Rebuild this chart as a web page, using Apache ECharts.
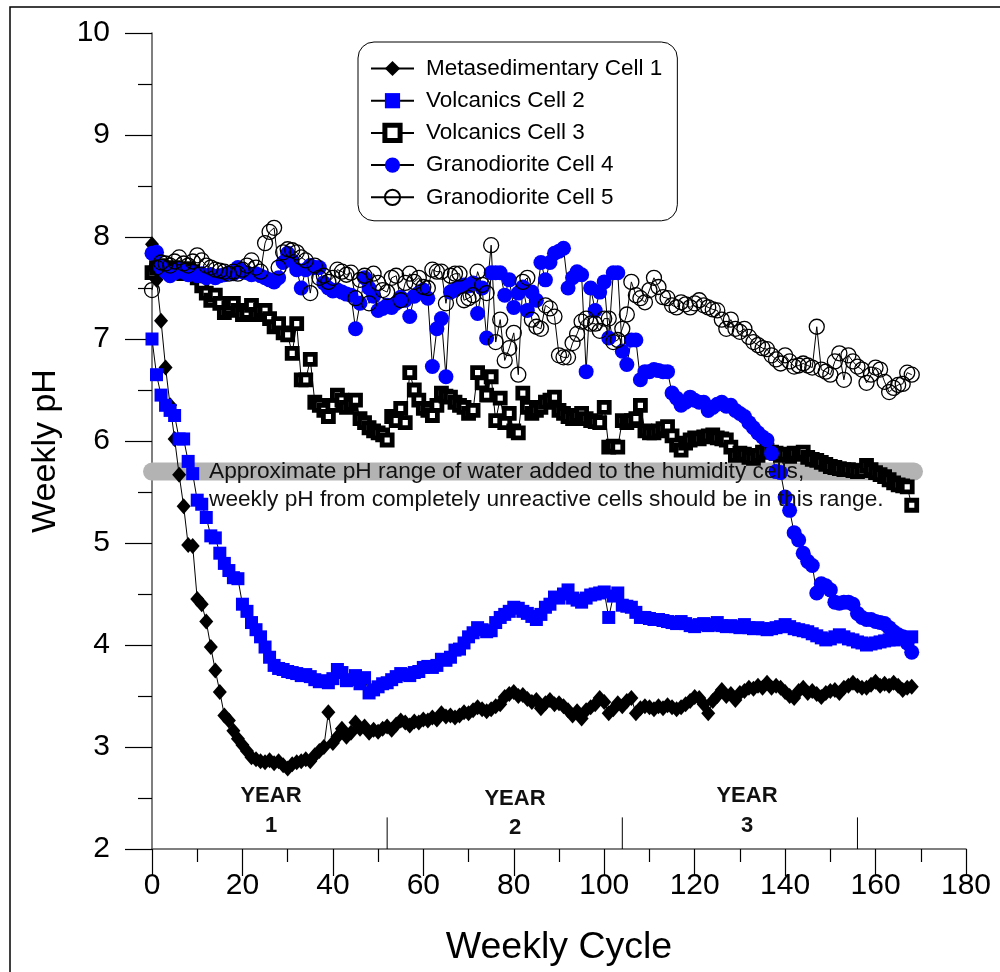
<!DOCTYPE html>
<html>
<head>
<meta charset="utf-8">
<script src="https://cdn.jsdelivr.net/npm/echarts@6/dist/echarts.min.js"></script>
<style>
html,body{margin:0;padding:0;background:#fff;}
#chart{width:1000px;height:972px;}
</style>
</head>
<body>
<div id="chart"></div>
<script>
// ---------------- DATA ----------------
const seriesNames = ["Metasedimentary Cell 1","Volcanics Cell 2","Volcanics Cell 3","Granodiorite Cell 4","Granodiorite Cell 5"];
const xTicks = [0,20,40,60,80,100,120,140,160,180];
const yTicks = [2,3,4,5,6,7,8,9,10];

const meta1 = [7.93,7.58,7.18,6.72,6.35,6.02,5.67,5.36,4.98,4.97,
4.45,4.40,4.23,3.98,3.75,3.54,3.31,3.26,3.16,3.08,
3.02,2.96,2.90,2.88,2.86,2.85,2.87,2.84,2.86,2.82,
2.79,2.83,2.85,2.86,2.88,2.86,2.92,2.96,3.00,3.34,
3.04,3.10,3.18,3.10,3.14,3.24,3.18,3.20,3.14,3.17,
3.15,3.18,3.20,3.17,3.22,3.26,3.24,3.21,3.25,3.24,
3.27,3.26,3.29,3.27,3.33,3.30,3.31,3.29,3.31,3.34,
3.33,3.36,3.39,3.37,3.35,3.37,3.40,3.42,3.49,3.52,
3.54,3.50,3.51,3.47,3.44,3.46,3.38,3.43,3.46,3.42,
3.43,3.40,3.36,3.31,3.35,3.28,3.36,3.39,3.42,3.48,
3.44,3.33,3.37,3.43,3.40,3.45,3.48,3.33,3.38,3.40,
3.39,3.37,3.40,3.38,3.41,3.39,3.37,3.39,3.42,3.45,
3.49,3.48,3.42,3.33,3.45,3.50,3.56,3.50,3.52,3.46,
3.53,3.55,3.58,3.57,3.60,3.58,3.63,3.58,3.60,3.58,
3.54,3.50,3.48,3.55,3.58,3.53,3.55,3.52,3.49,3.53,
3.55,3.56,3.53,3.58,3.60,3.63,3.60,3.58,3.58,3.61,
3.64,3.60,3.62,3.60,3.63,3.60,3.56,3.58,3.59];

const volc2 = [7.00,6.65,6.45,6.35,6.30,6.25,6.02,6.02,5.80,5.68,
5.42,5.38,5.25,5.07,5.05,4.90,4.80,4.73,4.66,4.65,
4.40,4.33,4.22,4.15,4.08,3.98,3.88,3.80,3.77,3.76,
3.74,3.73,3.72,3.70,3.71,3.69,3.66,3.64,3.65,3.63,
3.67,3.76,3.73,3.65,3.66,3.70,3.62,3.68,3.53,3.56,
3.59,3.62,3.63,3.66,3.69,3.72,3.71,3.70,3.73,3.74,
3.78,3.79,3.78,3.80,3.86,3.85,3.88,3.95,3.96,4.02,
4.08,4.12,4.17,4.15,4.13,4.14,4.22,4.27,4.30,4.33,
4.37,4.36,4.33,4.31,4.28,4.25,4.30,4.37,4.40,4.47,
4.46,4.50,4.54,4.46,4.44,4.42,4.46,4.49,4.50,4.51,
4.52,4.27,4.48,4.51,4.39,4.38,4.37,4.32,4.27,4.27,
4.26,4.25,4.25,4.24,4.23,4.22,4.21,4.23,4.21,4.19,
4.18,4.20,4.21,4.19,4.20,4.22,4.19,4.18,4.19,4.18,
4.17,4.20,4.17,4.16,4.17,4.16,4.15,4.16,4.17,4.18,
4.20,4.18,4.16,4.15,4.14,4.13,4.11,4.09,4.07,4.05,
4.06,4.08,4.10,4.08,4.06,4.05,4.03,4.02,4.00,4.01,
4.02,4.03,4.04,4.05,4.05,4.06,4.07,4.07,4.08];

const volc3 = [7.65,7.70,7.72,7.68,7.66,7.70,7.68,7.64,7.69,7.66,
7.60,7.52,7.45,7.38,7.43,7.35,7.26,7.30,7.35,7.28,
7.24,7.26,7.33,7.24,7.28,7.28,7.20,7.12,7.15,7.06,
7.04,6.86,7.15,6.60,6.60,6.80,6.38,6.35,6.30,6.24,
6.35,6.45,6.40,6.33,6.36,6.40,6.22,6.18,6.13,6.10,
6.08,6.06,6.01,6.24,6.20,6.32,6.18,6.67,6.50,6.40,
6.32,6.30,6.25,6.35,6.47,6.44,6.43,6.38,6.35,6.33,
6.27,6.30,6.67,6.57,6.45,6.63,6.20,6.42,6.18,6.27,
6.10,6.08,6.47,6.33,6.27,6.30,6.33,6.38,6.40,6.43,
6.30,6.27,6.24,6.22,6.25,6.27,6.22,6.20,6.19,6.18,
6.33,5.94,5.95,5.94,6.20,6.18,6.20,6.22,6.35,6.10,
6.08,6.08,6.10,6.12,6.14,6.05,5.96,5.91,5.98,6.01,
6.03,6.02,6.04,6.05,6.06,6.03,6.02,6.01,5.94,5.86,
5.88,5.87,5.84,5.83,5.86,5.89,5.91,5.89,5.88,5.86,
5.87,5.85,5.88,5.87,5.89,5.84,5.82,5.81,5.79,5.77,
5.75,5.74,5.73,5.72,5.72,5.71,5.70,5.71,5.76,5.72,
5.69,5.67,5.65,5.62,5.59,5.57,5.56,5.55,5.37];

const grano4 = [7.84,7.85,7.70,7.66,7.62,7.65,7.68,7.66,7.63,7.65,
7.62,7.64,7.60,7.63,7.60,7.62,7.63,7.65,7.64,7.70,
7.66,7.65,7.63,7.64,7.62,7.60,7.58,7.56,7.60,7.75,
7.84,7.77,7.68,7.50,7.68,7.72,7.70,7.70,7.55,7.50,
7.47,7.48,7.46,7.44,7.43,7.10,7.35,7.60,7.50,7.42,
7.28,7.30,7.33,7.31,7.35,7.41,7.38,7.22,7.42,7.45,
7.48,7.40,6.73,7.10,7.20,6.63,7.46,7.48,7.51,7.53,
7.52,7.55,7.25,7.50,7.01,7.65,7.65,7.65,7.43,7.58,
7.31,7.45,7.51,7.28,7.46,7.38,7.75,7.58,7.75,7.84,
7.86,7.89,7.50,7.60,7.66,7.63,6.68,7.50,7.28,7.46,
7.56,7.01,7.65,7.65,6.88,6.75,6.99,6.99,6.60,6.68,
6.68,6.70,6.69,6.68,6.68,6.47,6.42,6.35,6.38,6.43,
6.40,6.38,6.38,6.30,6.33,6.36,6.38,6.34,6.35,6.30,
6.27,6.24,6.18,6.13,6.08,6.04,6.01,5.88,5.70,5.69,
5.45,5.32,5.10,5.03,4.90,4.82,4.78,4.51,4.60,4.58,
4.54,4.42,4.41,4.42,4.42,4.40,4.31,4.27,4.25,4.25,
4.23,4.22,4.21,4.17,4.13,4.10,4.08,4.02,3.93];

const grano5 = [7.48,7.70,7.75,7.74,7.72,7.76,7.80,7.74,7.72,7.76,
7.82,7.77,7.72,7.70,7.68,7.67,7.66,7.64,7.66,7.64,
7.68,7.72,7.77,7.70,7.66,7.94,8.05,8.09,7.70,7.85,
7.88,7.87,7.85,7.80,7.77,7.45,7.72,7.60,7.62,7.56,
7.60,7.68,7.66,7.63,7.65,7.40,7.58,7.62,7.35,7.64,
7.55,7.48,7.46,7.60,7.62,7.38,7.55,7.64,7.56,7.60,
7.51,7.50,7.68,7.66,7.66,7.35,7.62,7.64,7.64,7.38,
7.40,7.43,7.66,7.53,7.45,7.92,6.97,7.19,6.79,6.91,
7.06,6.65,7.56,7.60,7.19,7.12,7.10,7.33,7.30,7.22,
6.84,6.82,6.82,6.96,7.05,7.17,7.20,7.15,7.15,7.08,
7.20,7.20,6.97,6.99,7.10,7.24,7.56,7.43,7.40,7.36,
7.48,7.60,7.51,7.41,7.40,7.33,7.31,7.36,7.34,7.31,
7.35,7.38,7.33,7.31,7.29,7.28,7.19,7.10,7.19,7.10,
7.07,7.10,7.02,6.97,6.94,6.91,6.90,6.84,6.80,6.76,
6.84,6.78,6.73,6.74,6.76,6.74,6.72,7.12,6.70,6.68,
6.65,6.78,6.86,6.60,6.84,6.78,6.73,6.70,6.57,6.65,
6.72,6.70,6.58,6.48,6.52,6.55,6.56,6.67,6.65];

// annotation band (pH range of added water) and year boundaries
const bandX = [0, 168.5];
const bandPH = 5.7;
const yearBounds = [52, 104, 156];
const yearTickTop = 2.31;
const yearLabels = [["YEAR","1"],["YEAR","2"],["YEAR","3"]];
const noteLines = ["Approximate pH range of water added to the humidity cells,",
                   "weekly pH from completely unreactive cells should be in this range."];

// ---------------- CHART ----------------
const FONT = "'Liberation Sans', Arial, Helvetica, sans-serif";
const weeks = meta1.map((_, i) => i);
const pair = arr => arr.map((v, i) => [weeks[i], v]);

const chart = echarts.init(document.getElementById('chart'), null, {renderer: 'canvas'});

const lineBase = {
  type: 'line',
  showSymbol: true,
  showAllSymbol: true,
  lineStyle: {color: '#000', width: 1},
  emphasis: {disabled: true},
  z: 3
};

const yearText = (x, y, t) => ({type: 'text', x: x, y: y,
  style: {text: t, font: "bold 22px " + FONT, fill: '#111', textAlign: 'center', textVerticalAlign: 'middle'}, z: 5});

const option = {
  animation: false,
  backgroundColor: '#fff',
  textStyle: {fontFamily: FONT},
  grid: {left: 152, right: 34, top: 33, bottom: 123, containLabel: false},
  legend: {
    data: [
      {name: seriesNames[0]},
      {name: seriesNames[1]},
      {name: seriesNames[2], itemStyle: {color: '#fff', borderColor: '#000', borderWidth: 5}},
      {name: seriesNames[3]},
      {name: seriesNames[4]}
    ],
    orient: 'vertical',
    left: 358,
    top: 42,
    width: 319,
    padding: [15, 15, 12, 12],
    itemGap: 9.2,
    itemWidth: 43,
    itemHeight: 19,
    borderColor: '#000',
    borderWidth: 1,
    borderRadius: 16,
    backgroundColor: '#fff',
    selectedMode: false,
    textStyle: {fontSize: 22.5, color: '#000', fontFamily: FONT, padding: [0, 0, 0, 7], lineHeight: 22},
    z: 10
  },
  xAxis: {
    type: 'value',
    min: 0, max: 180, interval: 20,
    name: 'Weekly Cycle',
    nameLocation: 'middle',
    nameGap: 80,
    nameTextStyle: {fontSize: 37.5, color: '#000', fontFamily: FONT},
    axisLine: {show: true, onZero: false, lineStyle: {color: '#555', width: 1.5}},
    axisTick: {show: true, inside: false, length: 27, lineStyle: {color: '#000', width: 1.2}},
    minorTick: {show: true, splitNumber: 2, length: 13, lineStyle: {color: '#000', width: 1.2}},
    axisLabel: {fontSize: 30, color: '#000', margin: 22, fontFamily: FONT,
      formatter: v => xTicks.includes(v) ? String(v) : ''},
    splitLine: {show: false}
  },
  yAxis: {
    type: 'value',
    min: 2, max: 10, interval: 1,
    name: 'Weekly pH',
    nameLocation: 'middle',
    nameGap: 89,
    nameRotate: 90,
    nameTextStyle: {fontSize: 34, color: '#000', fontFamily: FONT, padding: [0, 20, 0, 0]},
    axisLine: {show: true, onZero: false, lineStyle: {color: '#555', width: 1.5}},
    axisTick: {show: true, inside: false, length: 27, lineStyle: {color: '#000', width: 1.2}},
    minorTick: {show: true, splitNumber: 2, length: 14, lineStyle: {color: '#000', width: 1.2}},
    axisLabel: {fontSize: 30, color: '#000', margin: 42, fontFamily: FONT,
      formatter: v => yTicks.includes(v) ? String(v) : ''},
    splitLine: {show: false}
  },
  graphic: [
    {type: 'rect', shape: {x: 10, y: 7, width: 1200, height: 1200}, style: {fill: 'none', stroke: '#000', lineWidth: 1.5}, silent: true, z: -1},
    yearText(271, 796, yearLabels[0][0]),
    yearText(271, 826, yearLabels[0][1]),
    yearText(515, 799, yearLabels[1][0]),
    yearText(515, 828, yearLabels[1][1]),
    yearText(747, 796, yearLabels[2][0]),
    yearText(747, 826, yearLabels[2][1]),
    {type: 'text', x: 209, y: 472, style: {text: noteLines[0], font: "22.7px " + FONT, fill: '#111', textAlign: 'left', textVerticalAlign: 'middle'}, z: 4},
    {type: 'text', x: 209, y: 500, style: {text: noteLines[1], font: "22.7px " + FONT, fill: '#111', textAlign: 'left', textVerticalAlign: 'middle'}, z: 4}
  ],
  series: [
    {
      name: 'band', type: 'line', data: bandX.map(x => [x, bandPH]),
      showSymbol: false, silent: true, z: 1,
      lineStyle: {color: '#b3b3b3', width: 18, cap: 'round'},
      emphasis: {disabled: true}
    },
    {
      name: 'yearDividers', type: 'custom', silent: true, z: 1,
      data: yearBounds.map(x => [x, 2]),
      renderItem: function (params, api) {
        const p0 = api.coord([api.value(0), 2]);
        const p1 = api.coord([api.value(0), yearTickTop]);
        return {type: 'line', shape: {x1: p0[0], y1: p0[1], x2: p1[0], y2: p1[1]}, style: {stroke: '#000', lineWidth: 1}};
      }
    },
    Object.assign({}, lineBase, {
      name: seriesNames[0], data: pair(meta1),
      symbol: 'diamond', symbolSize: [14, 16],
      itemStyle: {color: '#000'}
    }),
    Object.assign({}, lineBase, {
      name: seriesNames[1], data: pair(volc2),
      symbol: 'rect', symbolSize: 13,
      itemStyle: {color: '#0000ff'}
    }),
    Object.assign({}, lineBase, {
      name: seriesNames[2], data: pair(volc3),
      symbol: 'rect', symbolSize: 10,
      itemStyle: {color: '#fff', borderColor: '#000', borderWidth: 4.8}
    }),
    Object.assign({}, lineBase, {
      name: seriesNames[3], data: pair(grano4),
      symbol: 'circle', symbolSize: 15,
      itemStyle: {color: '#0000ff'}
    }),
    Object.assign({}, lineBase, {
      name: seriesNames[4], data: pair(grano5),
      symbol: 'circle', symbolSize: 15,
      itemStyle: {color: 'rgba(255,255,255,0)', borderColor: '#000', borderWidth: 1.3}
    })
  ]
};
chart.setOption(option);
</script>
</body>
</html>
